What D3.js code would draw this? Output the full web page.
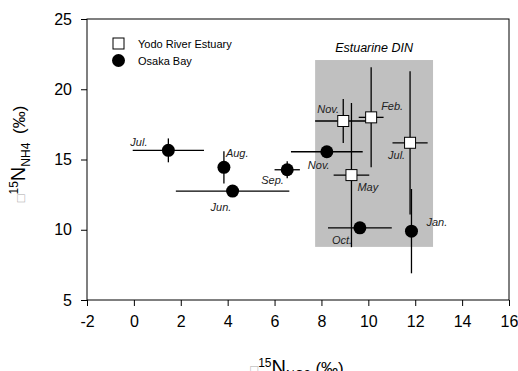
<!DOCTYPE html>
<html>
<head>
<meta charset="utf-8">
<script src="https://cdn.jsdelivr.net/npm/d3@7"></script>
<style>
  body { margin: 0; background: #fff; }
  svg text { font-family: "Liberation Sans", Arial, sans-serif; }
</style>
</head>
<body>
<div id="chart"></div>
<script>
// Yodo River Estuary (open squares)
const yodoMonths = ["Nov.", "Feb.", "Jul.", "May"];
const yodoNO3 = [8.93, 10.12, 11.78, 9.28];
const yodoNH4 = [17.74, 18.0, 16.19, 13.89];
const yodoNO3Err = [1.2, 0.53, 0.75, 0.76];
const yodoNH4Err = [1.57, 3.56, 5.1, 5.13];

// Osaka Bay (filled circles)
const osakaMonths = ["Jul.", "Aug.", "Jun.", "Sep.", "Nov.", "Oct.", "Jan."];
const osakaNO3 = [1.47, 3.84, 4.21, 6.54, 8.23, 9.64, 11.84];
const osakaNH4 = [15.65, 14.44, 12.75, 14.27, 15.55, 10.14, 9.9];
const osakaNO3Err = [1.52, 0, 2.42, 0.54, 1.53, 1.36, 0];
const osakaNH4Err = [0.85, 1.15, 0, 0.6, 0, 0, 3.0];

// estuarine DIN range
const dinNO3 = [7.73, 12.76];
const dinNH4 = [8.78, 22.08];

const xTicks = [-2, 0, 2, 4, 6, 8, 10, 12, 14, 16];
const yTicks = [5, 10, 15, 20, 25];

const W = 518, H = 371;
const margin = { top: 19, right: 9, bottom: 71, left: 87 };

// label offsets, in pixels from the marker
const yodoLabelPos = [[-26, -8], [10, -7], [-22, 16], [6, 16]];
const osakaLabelPos = [[-38, -4], [2, -10], [-22, 20], [-26, 14], [-19, 17], [-28, 16], [15, -5]];

const svg = d3.select("#chart").append("svg")
    .attr("width", W)
    .attr("height", H);

const x = d3.scaleLinear()
    .domain([-2, 16])
    .range([margin.left, W - margin.right]);
const y = d3.scaleLinear()
    .domain([5, 25])
    .range([H - margin.bottom, margin.top]);

// Estuarine DIN box
svg.append("rect")
    .attr("x", x(dinNO3[0]))
    .attr("y", y(dinNH4[1]))
    .attr("width", x(dinNO3[1]) - x(dinNO3[0]))
    .attr("height", y(dinNH4[0]) - y(dinNH4[1]))
    .attr("fill", "#c0c0c0");

svg.append("text")
    .attr("x", (x(dinNO3[0]) + x(dinNO3[1])) / 2)
    .attr("y", 52)
    .attr("text-anchor", "middle")
    .attr("font-size", 12.5)
    .attr("font-style", "italic")
    .text("Estuarine DIN");

// frame
svg.append("rect")
    .attr("x", x(-2))
    .attr("y", y(25))
    .attr("width", x(16) - x(-2))
    .attr("height", y(5) - y(25))
    .attr("fill", "none")
    .attr("stroke", "#000")
    .attr("stroke-width", 1);

// Axes
const fmt = function (d) { return String(d); }; // plain hyphen for negatives
const xAxis = svg.append("g")
    .attr("transform", "translate(0," + y(5) + ")")
    .call(d3.axisBottom(x).tickValues(xTicks).tickFormat(fmt).tickSize(6).tickSizeOuter(0).tickPadding(10));
const yAxis = svg.append("g")
    .attr("transform", "translate(" + x(-2) + ",0)")
    .call(d3.axisLeft(y).tickValues(yTicks).tickFormat(fmt).tickSize(6).tickSizeOuter(0).tickPadding(9));
[xAxis, yAxis].forEach(function (g) {
    g.select(".domain").remove();
    g.selectAll("line").attr("stroke", "#000");
    g.selectAll("text")
        .attr("font-family", "'Liberation Sans', Arial, sans-serif")
        .attr("font-size", 16)
        .attr("fill", "#000");
});

// error bars
const drawSeries = function (months, xs, ys, xe, ye, cls) {
    const data = months.map(function (m, i) {
        return { m: m, x: xs[i], y: ys[i], xe: xe[i], ye: ye[i] };
    });
    const g = svg.append("g").attr("class", cls);
    g.selectAll(".xerr")
        .data(data.filter(function (d) { return d.xe > 0; }))
        .enter()
        .append("line")
        .attr("x1", function (d) { return x(d.x - d.xe); })
        .attr("x2", function (d) { return x(d.x + d.xe); })
        .attr("y1", function (d) { return y(d.y); })
        .attr("y2", function (d) { return y(d.y); })
        .attr("stroke", "#000")
        .attr("stroke-width", 1.3);
    g.selectAll(".yerr")
        .data(data.filter(function (d) { return d.ye > 0; }))
        .enter()
        .append("line")
        .attr("x1", function (d) { return x(d.x); })
        .attr("x2", function (d) { return x(d.x); })
        .attr("y1", function (d) { return y(d.y - d.ye); })
        .attr("y2", function (d) { return y(d.y + d.ye); })
        .attr("stroke", "#000")
        .attr("stroke-width", 1.3);
    return data;
}

const yodoData = drawSeries(yodoMonths, yodoNO3, yodoNH4, yodoNO3Err, yodoNH4Err, "yodo-err");
const osakaData = drawSeries(osakaMonths, osakaNO3, osakaNH4, osakaNO3Err, osakaNH4Err, "osaka-err");

// markers
svg.append("g")
    .selectAll("circle")
    .data(osakaData)
    .enter()
    .append("circle")
    .attr("cx", function (d) { return x(d.x); })
    .attr("cy", function (d) { return y(d.y); })
    .attr("r", 6.5)
    .attr("fill", "#000");

const sq = 11;
svg.append("g")
    .selectAll("rect")
    .data(yodoData)
    .enter()
    .append("rect")
    .attr("x", function (d) { return x(d.x) - sq / 2; })
    .attr("y", function (d) { return y(d.y) - sq / 2; })
    .attr("width", sq)
    .attr("height", sq)
    .attr("fill", "#fff")
    .attr("stroke", "#000")
    .attr("stroke-width", 1);

// month labels
const labelSeries = function (data, pos) {
    svg.append("g")
        .selectAll("text")
        .data(data)
        .enter()
        .append("text")
        .attr("x", function (d, i) { return x(d.x) + pos[i][0]; })
        .attr("y", function (d, i) { return y(d.y) + pos[i][1]; })
        .attr("font-size", 11)
        .attr("font-style", "italic")
        .attr("fill", "#222")
        .text(function (d) { return d.m; });
}
labelSeries(osakaData, osakaLabelPos);
labelSeries(yodoData, yodoLabelPos);

// legend
const legend = svg.append("g");
legend.append("rect")
    .attr("x", 113).attr("y", 38)
    .attr("width", 11).attr("height", 11)
    .attr("fill", "#fff").attr("stroke", "#000");
legend.append("circle")
    .attr("cx", 118.5).attr("cy", 60.5).attr("r", 6.5)
    .attr("fill", "#000");
legend.append("text")
    .attr("x", 138).attr("y", 47.5)
    .attr("font-size", 11)
    .text("Yodo River Estuary");
legend.append("text")
    .attr("x", 138).attr("y", 64.5)
    .attr("font-size", 11)
    .text("Osaka Bay");

// axis titles
const title = function (t, sub, gap) {
    t.append("tspan").attr("font-size", 13).attr("fill", "#aaa").text("\u25A1");
    t.append("tspan").attr("font-size", 12).attr("dy", -7).text("15");
    t.append("tspan").attr("font-size", 20).attr("dy", 7).text("N");
    t.append("tspan").attr("font-size", 12).attr("dy", 5).text(sub);
    t.append("tspan").attr("font-size", 17).attr("dy", -5).attr("dx", gap).text(" (\u2030)");
}
const xt = svg.append("text")
    .attr("x", 297)
    .attr("y", 374)
    .attr("text-anchor", "middle");
title(xt, "NO3", 0);

const yt = svg.append("text")
    .attr("transform", "translate(25,154) rotate(-90)")
    .attr("text-anchor", "middle");
title(yt, "NH4", 4);
</script>
</body>
</html>
